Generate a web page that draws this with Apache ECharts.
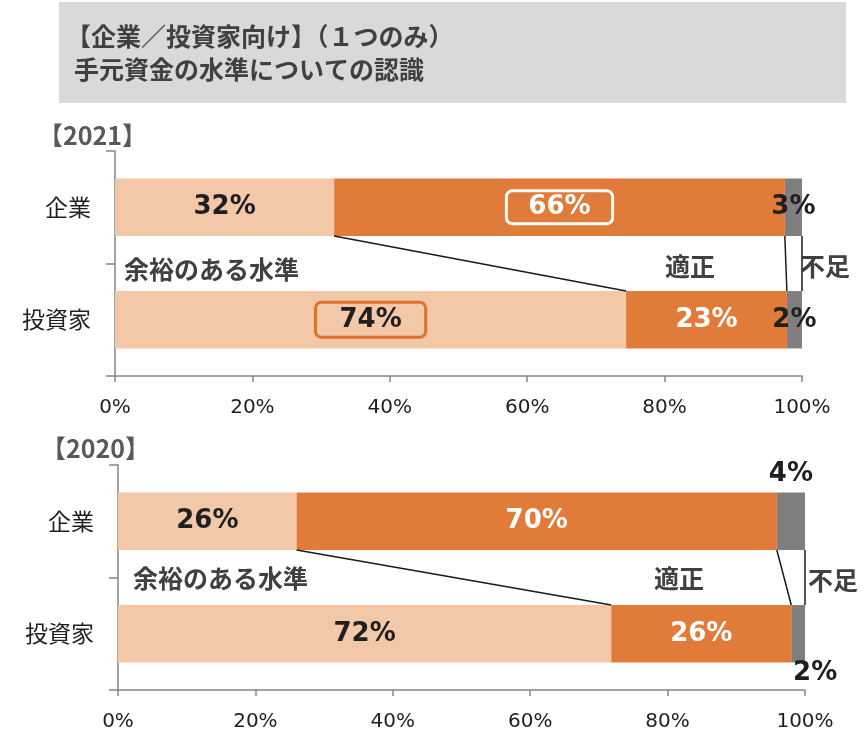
<!DOCTYPE html>
<html>
<head>
<meta charset="utf-8">
<script src="https://cdn.jsdelivr.net/npm/echarts@6/dist/echarts.min.js"></script>
<style>
html,body{margin:0;padding:0;background:#fff;}
#chart{width:862px;height:746px;}
</style>
</head>
<body>
<div id="chart"></div>
<script>
// ---- data ----
const categories = ['企業', '投資家'];
const ample2021 = [31.9, 74.4];
const proper2021 = [65.6, 23.4];
const short2021 = [2.5, 2.2];
const ample2020 = [26.0, 71.8];
const proper2020 = [69.9, 26.2];
const short2020 = [4.1, 2.0];
const seriesNames = ['余裕のある水準', '適正', '不足'];
const yearLabels = ['【2021】', '【2020】'];
const titleLines = ['【企業／投資家向け】（１つのみ）', '手元資金の水準についての認識'];

// ---- styles ----
const C_LIGHT = '#F2C8A9', C_ORANGE = '#E07B3A', C_GRAY = '#7F7F7F';
const TXT = '#1f1f1f', ANNO = '#404040';
const CJK = '"Noto Sans CJK JP", sans-serif';
const NUM = '"DejaVu Sans", sans-serif';
const BAR_W = 0.51;

const chart = echarts.init(document.getElementById('chart'));

const pct = p => Math.round(p.value) + '%';
const baseLabel = (color) => ({
  show: true, position: 'inside', formatter: pct,
  color: color, fontFamily: NUM, fontWeight: 'bold', fontSize: 26
});

function items(values, overrides) {
  return values.map((v, i) => overrides && overrides[i] ? { value: v, label: overrides[i] } : v);
}

function connectorData(ample, proper) {
  return [
    [ample[0], ample[1], 0],
    [ample[0] + proper[0], ample[1] + proper[1], 0],
    [100, 100, 0]
  ];
}

function renderConnector(params, api) {
  const p0 = api.coord([api.value(0), 0]);
  const p1 = api.coord([api.value(1), 1]);
  const half = api.size([0, 1])[1] * BAR_W / 2;
  return {
    type: 'line',
    shape: { x1: p0[0], y1: p0[1] + half, x2: p1[0], y2: p1[1] - half },
    style: { stroke: '#1a1a1a', lineWidth: 1.5 }
  };
}

function makeSeries(idx, ample, proper, short, ov) {
  const stack = 's' + idx;
  return [
    { name: seriesNames[0], type: 'bar', stack, xAxisIndex: idx, yAxisIndex: idx,
      barWidth: (BAR_W * 100) + '%', itemStyle: { color: C_LIGHT },
      label: baseLabel(TXT), data: items(ample, ov.ample), silent: true },
    { name: seriesNames[1], type: 'bar', stack, xAxisIndex: idx, yAxisIndex: idx,
      barWidth: (BAR_W * 100) + '%', itemStyle: { color: C_ORANGE },
      label: baseLabel('#ffffff'), data: items(proper, ov.proper), silent: true },
    { name: seriesNames[2], type: 'bar', stack, xAxisIndex: idx, yAxisIndex: idx,
      barWidth: (BAR_W * 100) + '%', itemStyle: { color: C_GRAY },
      label: baseLabel(TXT), data: items(short, ov.short), silent: true },
    { type: 'custom', xAxisIndex: idx, yAxisIndex: idx, renderItem: renderConnector,
      encode: { x: [0, 1], y: 2 }, data: connectorData(ample, proper), clip: false, z: 5, silent: true }
  ];
}

const ov2021 = {
  proper: { 0: { borderColor: '#ffffff', borderWidth: 3, borderRadius: 6, padding: [4, 22, 3, 22] } },
  ample: { 1: { borderColor: '#E0702F', borderWidth: 3, borderRadius: 6, padding: [5, 24, 4, 24] } }
};
const ov2020 = {
  short: {
    0: { position: 'top', distance: 5 },
    1: { position: 'bottom', distance: -2, offset: [17, 0] }
  }
};

function xAxis(idx) {
  return {
    type: 'value', gridIndex: idx, min: 0, max: 100, interval: 20,
    axisLine: { show: true, lineStyle: { color: '#868686', width: 1.5 } },
    axisTick: { show: true, length: 6, lineStyle: { color: '#868686', width: 1.5 } },
    splitLine: { show: false },
    axisLabel: { formatter: '{value}%', color: TXT, fontFamily: NUM, fontSize: 20, margin: 22 }
  };
}
function yAxis(idx) {
  return {
    type: 'category', gridIndex: idx, data: categories, inverse: true,
    axisLine: { show: true, lineStyle: { color: '#868686', width: 1.5 } },
    axisTick: { show: true, length: 9, lineStyle: { color: '#868686', width: 1.5 } },
    axisLabel: { color: TXT, fontFamily: CJK, fontSize: 23, margin: 24 }
  };
}

const annoText = (text, x, y) => ({
  type: 'text', x, y,
  style: { text, fill: ANNO, font: 'bold 25px ' + CJK, textVerticalAlign: 'middle' },
  z: 10
});

const option = {
  animation: false,
  grid: [
    { left: 115, right: 60, top: 151, height: 225 },
    { left: 118, right: 57, top: 465, height: 225 }
  ],
  xAxis: [xAxis(0), xAxis(1)],
  yAxis: [yAxis(0), yAxis(1)],
  series: [
    ...makeSeries(0, ample2021, proper2021, short2021, ov2021),
    ...makeSeries(1, ample2020, proper2020, short2020, ov2020)
  ],
  graphic: [
    { type: 'rect', shape: { x: 59, y: 2, width: 787, height: 101 }, style: { fill: '#D9D9D9' }, z: 0 },
    { type: 'text', x: 66, y: 36, style: { text: titleLines[0], fill: ANNO, font: 'bold 25px ' + CJK, textVerticalAlign: 'middle' } },
    { type: 'text', x: 74, y: 69, style: { text: titleLines[1], fill: ANNO, font: 'bold 25px ' + CJK, textVerticalAlign: 'middle' } },
    { type: 'text', x: 38, y: 135, style: { text: yearLabels[0], fill: '#595959', font: 'bold 25px ' + CJK, textVerticalAlign: 'middle' } },
    { type: 'text', x: 41, y: 448, style: { text: yearLabels[1], fill: '#595959', font: 'bold 25px ' + CJK, textVerticalAlign: 'middle' } },
    annoText(seriesNames[0], 124, 269),
    annoText(seriesNames[1], 665, 266),
    annoText(seriesNames[2], 800, 266),
    annoText(seriesNames[0], 133, 578),
    annoText(seriesNames[1], 654, 578),
    annoText(seriesNames[2], 808, 580)
  ]
};
chart.setOption(option);
</script>
</body>
</html>
